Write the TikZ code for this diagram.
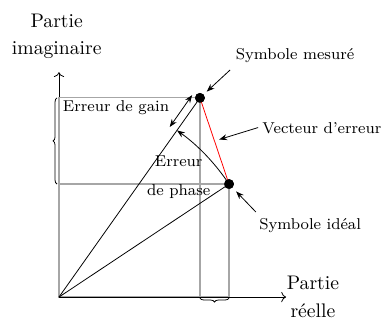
\documentclass[tikz,border=0pt]{standalone}
\usepackage{amsmath, amssymb}
\usepackage{tikz}
\usetikzlibrary{positioning, calc, arrows.meta, decorations.pathreplacing}

\begin{document}
\begin{tikzpicture}
	 \tikzstyle{point}=[circle,fill=black,inner sep=0pt,minimum size=5pt]
	 \tikzstyle{legend}=[font=\footnotesize]
	 \tikzstyle{axis}=[draw,->,black]
	 \tikzstyle{proj}=[draw,gray!70,semithick]
	 \tikzstyle{pointer}=[draw,-{Stealth[length=4pt,width=3pt]},black]
	 \tikzstyle{gainarrow}=[draw,{Stealth[length=4pt,width=3pt]}-{Stealth[length=4pt,width=3pt]},black]
	 \tikzstyle{accolade}=[draw,decorate,decoration={brace,amplitude=2pt}]
	 \useasboundingbox (-1.054,-0.411) rectangle (5.81,5.31);
	 \coordinate (O) at (0,0);
	 \coordinate (xmax) at (4.06,0);
	 \coordinate (ymax) at (0,4.02);
	 \node[point] (M) at (2.52,3.56) {};
	 \node[point] (I) at (3.04,2.02) {};
	 % axes et projections
	 \draw[axis] (O) -- (ymax);
	 \draw[proj] (O) rectangle (M.center);
	 \draw[proj] (O) rectangle (I.center);
	 \draw[axis] (O) -- (xmax);
	 \draw (O) -- (M.center);
	 \draw (O) -- (I.center);
	 \draw[red] (M.center) -- (I.center);
	 \node[point] at (M) {};
	 \node[point] at (I) {};
	 % accolades
	 \draw[accolade] ($(O |- I)+(-1pt,0)$) -- ($(O |- M)+(-1pt,0)$);
	 \draw[accolade] ($(I |- O)+(0,-0.5pt)$) -- ($(M |- O)+(0,-0.5pt)$);
	 % erreurs
	 \coordinate (g1) at (1.98,3.04);
	 \coordinate (g2) at (2.38,3.61);
	 \draw[gainarrow] (g1) -- (g2);
	 \draw[pointer] (I.center) arc[start angle=33.6, end angle=54.7, radius=3.65];
	 % textes
	 \node[align=center] (ylab) at (-0.04,4.66) {Partie\\[2pt]imaginaire};
	 \node[align=center] (xlab) at (4.54,0) {Partie\\[2pt]réelle};
	 \node[legend] (gain) at (1.02,3.38) {Erreur de gain};
	 \node[legend,align=center] (phase) at (2.14,2.14) {Erreur\\[5pt]de phase};
	 \node[legend] (smes) at (4.22,4.32) {Symbole mesuré};
	 \node[legend] (verr) at (4.70,3.02) {Vecteur d'erreur};
	 \node[legend] (sid) at (4.49,1.27) {Symbole idéal};
	 % fleches
	 \coordinate (p1) at (3.06,4.06);
	 \coordinate (p2) at (3.56,3.03);
	 \coordinate (p3) at (3.52,1.52);
	 \draw[pointer, shorten >=2pt] (p1) -- (M);
	 \draw[pointer, shorten >=2.5pt] (p2) -- ($(M)!0.5!(I)$);
	 \draw[pointer, shorten >=2.5pt] (p3) -- (I);
\end{tikzpicture}
\end{document}
